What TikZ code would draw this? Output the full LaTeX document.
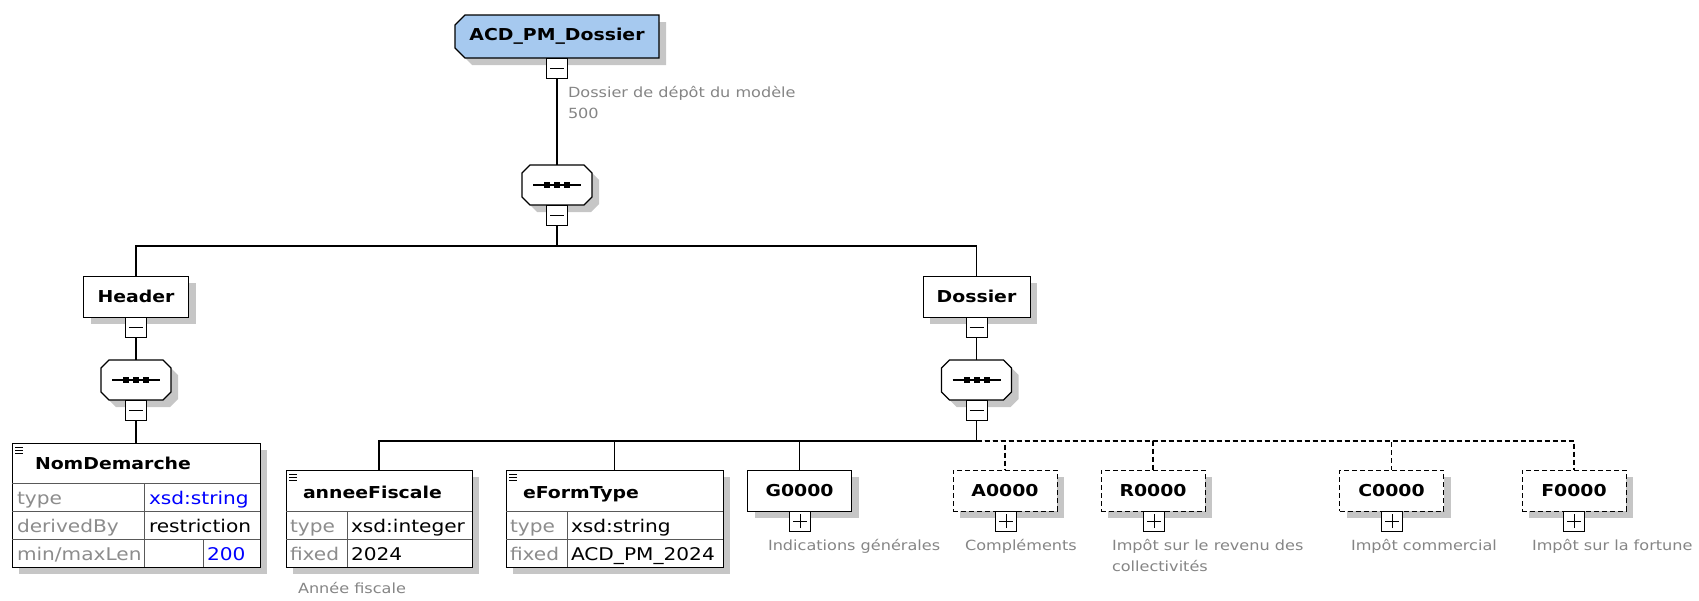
\documentclass[tikz,border=0pt]{standalone}
\usepackage{fontspec}
\setmainfont{DejaVu Sans}[FakeStretch=1.15]
\usetikzlibrary{shadows}
\pgfdeclarelayer{background}
\pgfsetlayers{background,main}
\definecolor{rootblue}{HTML}{A6C9EF}
\definecolor{lblgray}{HTML}{858585}
\definecolor{rowgray}{HTML}{8C8C8C}
\definecolor{shad}{HTML}{C6C6C6}
\definecolor{xsdblue}{HTML}{0000FF}
\newcommand\ttlfont{\bfseries\fontsize{16.4}{19}\selectfont}
\newcommand\rowfont{\fontsize{17.5}{21}\selectfont}
\newcommand\lblfont{\fontsize{14}{21.5}\selectfont}
% x0 y0 x1 y1 chamfer
\newcommand\octpts[5]{(#1+#5,#2) -- (#3-#5,#2) -- (#3,#2+#5) -- (#3,#4-#5) -- (#3-#5,#4) -- (#1+#5,#4) -- (#1,#4-#5) -- (#1,#2+#5) -- cycle}
\newcommand\leftpts[5]{(#1+#5,#2) -- (#3,#2) -- (#3,#4) -- (#1+#5,#4) -- (#1,#4-#5) -- (#1,#2+#5) -- cycle}
% name cx cy
\newcommand\seqnode[3]{%
  \node[minimum width=70pt,minimum height=40pt] (#1) at (#2,#3) {};
  \begin{pgfonlayer}{background}
    \fill[shad] \octpts{#2-35+7}{#3-20+7}{#2+35+7}{#3+20+7}{8};
    \filldraw[fill=white,line width=1.3pt] \octpts{#2-35}{#3-20}{#2+35}{#3+20}{8};
  \end{pgfonlayer}
  \draw[line width=1.2pt] (#2-24,#3) -- (#2+24,#3);
  \foreach \dx in {-10,0,10} \fill (#2+\dx-3,#3-3) rectangle (#2+\dx+3,#3+3);
}
\newcommand\docicon[2]{%
  \draw[line width=1pt] (#1,#2) -- ++(8,0) (#1,#2+3) -- ++(8,0) (#1,#2+6) -- ++(8,0);
}
\begin{document}
\begin{tikzpicture}[x=1pt,y=-1pt,line width=1.3pt,
  every node/.style={inner sep=0pt,outer sep=0pt},
  shadowed/.style={drop shadow={shadow xshift=7pt,shadow yshift=-7pt,fill=shad,opacity=1}},
  elem/.style={draw,fill=white,shadowed,font=\ttlfont,minimum width=104pt,minimum height=41pt},
  optelem/.style={elem,dash pattern=on 5pt off 3pt},
  tbl/.style={draw,fill=white,shadowed,anchor=north west},
  conn/.style={line width=1.3pt},
  optconn/.style={line width=1.3pt,dash pattern=on 5pt off 3pt},
  inner/.style={line width=1pt,draw=black!65},
  minusbox/.style={draw,fill=white,minimum width=21pt,minimum height=20pt,
    path picture={\draw[line width=1pt] ([xshift=-7pt]path picture bounding box.center) -- ([xshift=7pt]path picture bounding box.center);}},
  plusbox/.style={draw,fill=white,minimum width=21pt,minimum height=20pt,
    path picture={\draw[line width=1pt] ([xshift=-7pt]path picture bounding box.center) -- ([xshift=7pt]path picture bounding box.center) ([yshift=-7pt]path picture bounding box.center) -- ([yshift=7pt]path picture bounding box.center);}},
  ttl/.style={font=\ttlfont,anchor=base west},
  rowl/.style={font=\rowfont,text=rowgray,anchor=base west},
  rowv/.style={font=\rowfont,anchor=base west},
  lbl/.style={font=\lblfont,text=lblgray,anchor=base west},
  mlbl/.style={font=\lblfont,text=lblgray,anchor=north west,align=left},
]
\useasboundingbox (0,0) rectangle (1699,600);

% root
\node[font=\ttlfont,minimum width=204pt,minimum height=43pt] (root) at (557,36.5) {ACD\_PM\_Dossier};
\begin{pgfonlayer}{background}
  \fill[shad] \leftpts{455+7}{15+7}{659+7}{58+7}{10};
  \filldraw[fill=rootblue,line width=1.3pt] \leftpts{455}{15}{659}{58}{10};
\end{pgfonlayer}
\node[minusbox] (rootm) at (557,68) {};
\node[mlbl] (lroot) at (568,86) {Dossier de dépôt du modèle\\500};

\seqnode{seqA}{557}{185}
\node[minusbox] (seqAm) at (557,215.5) {};
\coordinate (barA) at (557,246);

% Header branch
\node[elem,minimum width=105pt] (hdr) at (136,296.5) {Header};
\node[minusbox] (hdrm) at (136,327) {};
\seqnode{seqH}{136}{380}
\node[minusbox] (seqHm) at (136,410.5) {};

\node[tbl,minimum width=248pt,minimum height=124pt] (nom) at (12,443) {};
\draw[inner] (12,483) -- (260,483) (12,511) -- (260,511) (12,539) -- (260,539)
  (144,483) -- (144,567) (203,539) -- (203,567);
\docicon{15}{447}
\node[ttl] (nomt) at (35,469) {NomDemarche};
\node[rowl] (nom1) at (17,504) {type};
\node[rowv,text=xsdblue] (nom2) at (149,504) {xsd:string};
\node[rowl] (nom3) at (17,532) {derivedBy};
\node[rowv] (nom4) at (149,532) {restriction};
\node[rowl] (nom5) at (17,560) {min/maxLen};
\node[rowv,text=xsdblue] (nom6) at (207,560) {200};

% Dossier branch
\node[elem,minimum width=107pt] (dos) at (976.5,296.5) {Dossier};
\node[minusbox] (dosm) at (976.5,327) {};
\seqnode{seqD}{976.5}{380}
\node[minusbox] (seqDm) at (976.5,410.5) {};
\coordinate (barD) at (976.5,441);

% anneeFiscale
\node[tbl,minimum width=186pt,minimum height=97pt] (ann) at (286,470) {};
\draw[inner] (286,511) -- (472,511) (286,539) -- (472,539) (347,511) -- (347,567);
\docicon{289}{474}
\node[ttl] (annt) at (303,498) {anneeFiscale};
\node[rowl] (ann1) at (290,532) {type};
\node[rowv] (ann2) at (351,532) {xsd:integer};
\node[rowl] (ann3) at (290,560) {fixed};
\node[rowv] (ann4) at (351,560) {2024};
\node[lbl] (lann) at (298,593) {Année fiscale};

% eFormType
\node[tbl,minimum width=217pt,minimum height=97pt] (efo) at (506,470) {};
\draw[inner] (506,511) -- (723,511) (506,539) -- (723,539) (567,511) -- (567,567);
\docicon{509}{474}
\node[ttl] (efot) at (523,498) {eFormType};
\node[rowl] (efo1) at (510,532) {type};
\node[rowv] (efo2) at (571,532) {xsd:string};
\node[rowl] (efo3) at (510,560) {fixed};
\node[rowv] (efo4) at (571,560) {ACD\_PM\_2024};

% other children
\node[elem] (g) at (799.5,490.5) {G0000};
\node[plusbox] (gp) at (800,521) {};
\node[lbl] (lg) at (768,550) {Indications générales};

\node[optelem] (a) at (1005,490.5) {A0000};
\node[plusbox] (ap) at (1006,521) {};
\node[lbl] (la) at (965,550) {Compléments};

\node[optelem] (r) at (1153,490.5) {R0000};
\node[plusbox] (rp) at (1154,521) {};
\node[mlbl] (lr) at (1112,539) {Impôt sur le revenu des\\collectivités};

\node[optelem] (c) at (1391.5,490.5) {C0000};
\node[plusbox] (cp) at (1392,521) {};
\node[lbl] (lc) at (1351,550) {Impôt commercial};

\node[optelem] (f) at (1574,490.5) {F0000};
\node[plusbox] (fp) at (1574,521) {};
\node[lbl] (lf) at (1532,550) {Impôt sur la fortune};

% connectors
\draw[conn] (rootm.south) -- (seqA.north);
\draw[conn] (seqAm.south) -- (barA);
\draw[conn] (barA) -| (hdr.north);
\draw[conn] (barA) -| (dos.north);
\draw[conn] (hdrm.south) -- (seqH.north);
\draw[conn] (seqHm.south) -- (nom.north);
\draw[conn] (dosm.south) -- (seqD.north);
\draw[conn] (seqDm.south) -- (barD);
\draw[conn] (barD) -| (ann.north);
\draw[conn] (barD) -| (efo.north);
\draw[conn] (barD) -| (g.north);
\draw[optconn] (barD) -| (a.north);
\draw[optconn] (barD) -| (r.north);
\draw[optconn] (barD) -| (c.north);
\draw[optconn] (barD) -| (f.north);
\end{tikzpicture}
\end{document}
